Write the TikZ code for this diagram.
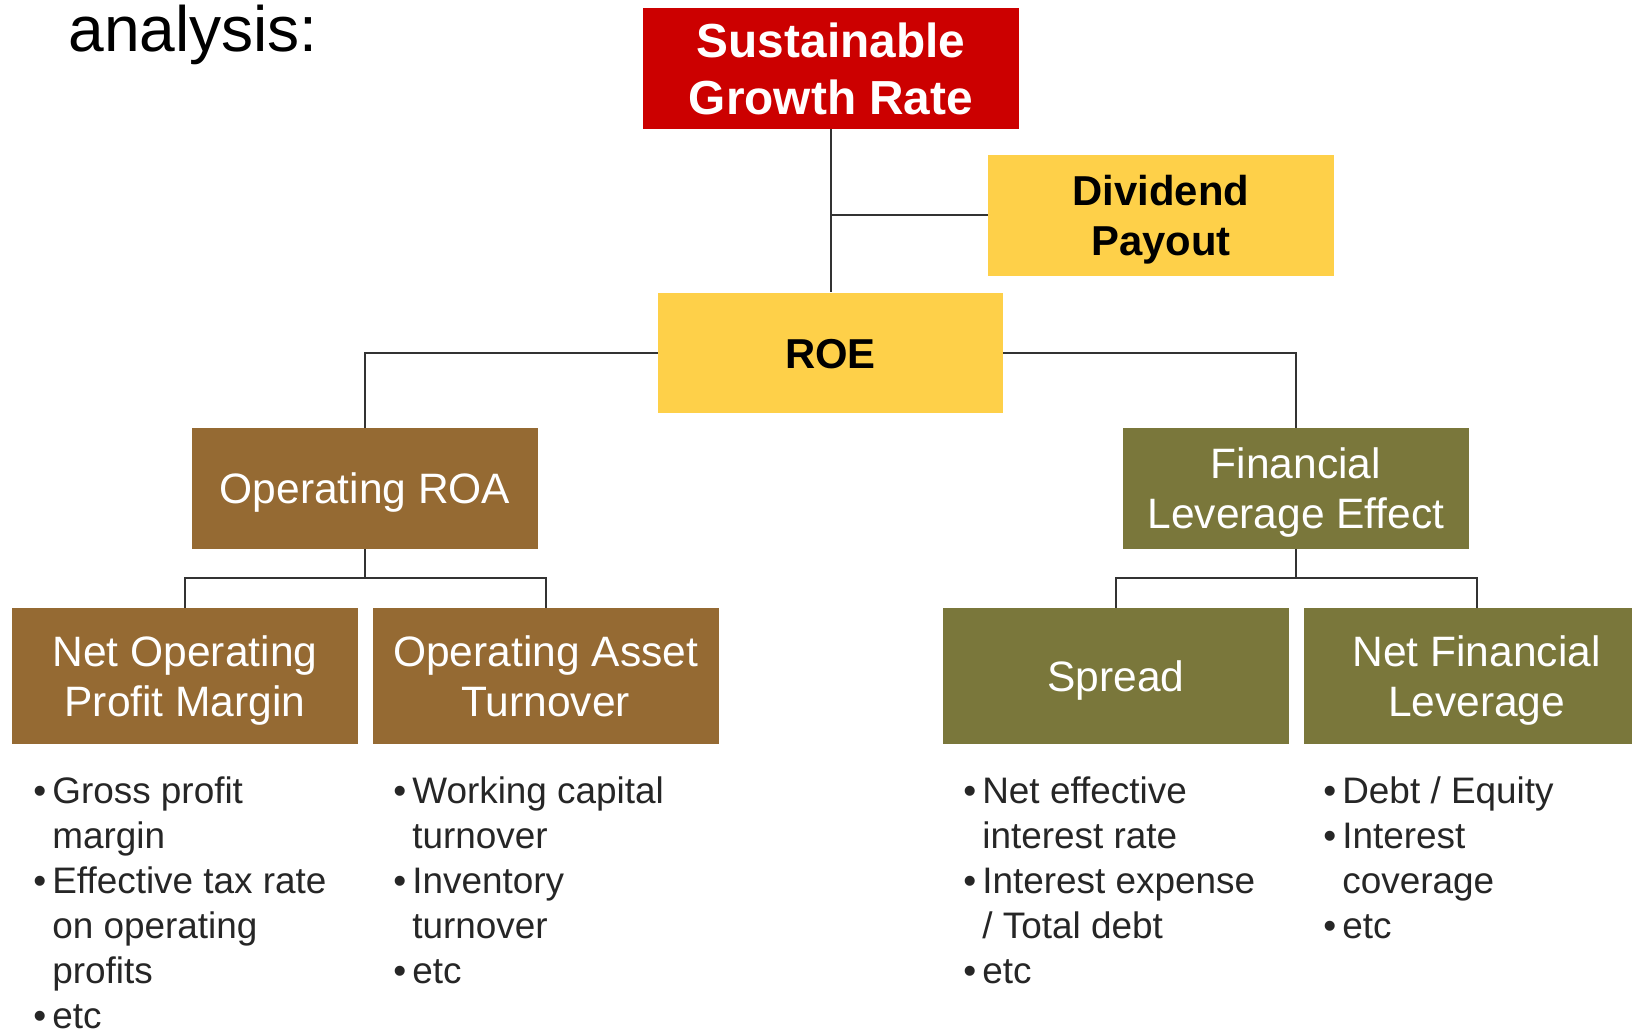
\documentclass[tikz,border=0pt]{standalone}
\usepackage{fontspec}
\setmainfont{Liberation Sans}
\usepackage{xcolor}
\usetikzlibrary{positioning}

\definecolor{sgrred}{HTML}{CC0000}
\definecolor{payyellow}{HTML}{FED049}
\definecolor{opbrown}{HTML}{956A33}
\definecolor{finolive}{HTML}{7A773B}
\definecolor{linkgray}{HTML}{333333}
\definecolor{itemgray}{HTML}{262626}

\newcommand{\headfont}{\fontsize{36.5}{42}\selectfont}
\newcommand{\sgrfont}{\fontsize{27.2}{32.3}\selectfont\bfseries}
\newcommand{\boxfont}{\fontsize{24.2}{28.3}\selectfont}
\newcommand{\itemfont}{\fontsize{21}{25.5}\selectfont}
\newcommand{\bul}{\llap{\textbullet\hspace{3.5pt}}}
% first-line strut so box labels sit on their caps
\newcommand{\tline}{\rule{0pt}{0.93em}}

\begin{document}
\begin{tikzpicture}[x=0.02cm, y=-0.02cm,
  box/.style={inner sep=0pt, align=center, minimum width=6.92cm, minimum height=2.42cm, font=\boxfont,
    execute at end node={\rule[-0.21em]{0pt}{0pt}}},
  lowbox/.style={box, minimum height=2.72cm, text=white},
  link/.style={draw=linkgray, line width=0.04cm},
  item/.style={anchor=base west, inner sep=0pt, font=\itemfont, text=itemgray}
]
\useasboundingbox (0,0) rectangle (1632,1030);

\node[anchor=base west, inner sep=0pt, font=\headfont] (head) at (68,52) {analysis:};

% top of the tree
\node[box, fill=sgrred, text=white, font=\sgrfont, minimum width=7.52cm] (sgr) at (831,68.5) {\tline Sustainable\\Growth Rate};
\node[box, fill=payyellow, font=\fontsize{23.8}{28.3}\selectfont\bfseries] (div) at (1161,215.5) {\tline Dividend\\Payout};
\node[box, fill=payyellow, font=\fontsize{23.8}{28.3}\selectfont\bfseries, minimum width=6.9cm] (roe) at (830.5,353) {\tline ROE};

% the two drivers of ROE
\node[box, fill=opbrown, text=white] (oroa) at (365,488.5) {\tline Operating ROA};
\node[box, fill=finolive, text=white] (fle) at (1296,488.5) {\tline Financial\\Leverage Effect};

\node[lowbox, fill=opbrown] (nopm) at (185,676) {\tline Net Operating\\Profit Margin};
\node[lowbox, fill=opbrown, right=0.28cm of nopm] (oat) {\tline Operating Asset\\Turnover};
\node[lowbox, fill=finolive] (spread) at (1116,676) {\tline Spread};
\node[lowbox, fill=finolive, right=0.28cm of spread] (nfl) {\tline Net Financial\\Leverage};

% connectors
\draw[link] (sgr.south) -- (sgr.south |- roe.north);
\draw[link] (div.west) -- (div.west -| sgr.south);
\draw[link] (roe.west) -| (oroa.north);
\draw[link] (roe.east) -| (fle.north);
\coordinate[below=0.58cm of oroa.south] (opbar);
\coordinate[below=0.58cm of fle.south] (finbar);
\draw[link] (oroa.south) -- (opbar);
\draw[link] (nopm.north) |- (opbar) -| (oat.north);
\draw[link] (fle.south) -- (finbar);
\draw[link] (spread.north) |- (finbar) -| (nfl.north);

% ratios under each box
\foreach \k/\t in {0/{\bul Gross profit}, 1/margin, 2/{\bul Effective tax rate}, 3/on operating, 4/profits, 5/{\bul etc}}
  \node[item] (nopm-\k) at (52,803+45*\k) {\t};
\foreach \k/\t in {0/{\bul Working capital}, 1/turnover, 2/{\bul Inventory}, 3/turnover, 4/{\bul etc}}
  \node[item] (oat-\k) at (412,803+45*\k) {\t};
\foreach \k/\t in {0/{\bul Net effective}, 1/interest rate, 2/{\bul Interest expense}, 3/{/ Total debt}, 4/{\bul etc}}
  \node[item] (spread-\k) at (982,803+45*\k) {\t};
\foreach \k/\t in {0/{\bul Debt / Equity}, 1/{\bul Interest}, 2/coverage, 3/{\bul etc}}
  \node[item] (nfl-\k) at (1342,803+45*\k) {\t};
\end{tikzpicture}
\end{document}
